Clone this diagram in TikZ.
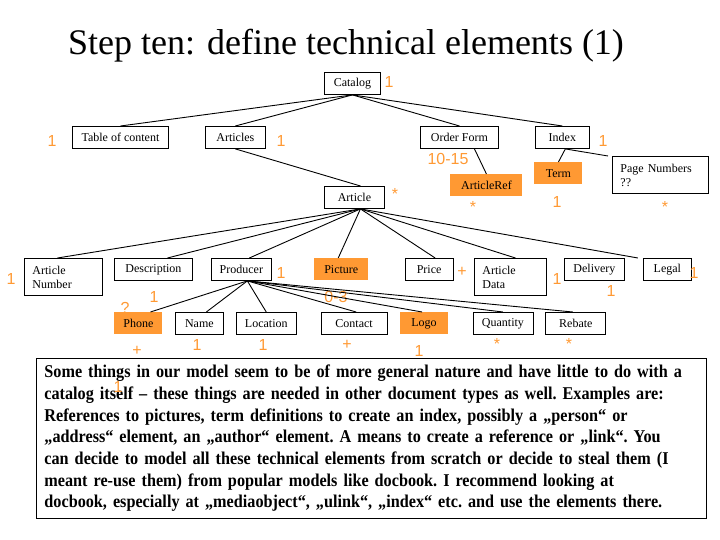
\documentclass[tikz,border=0pt]{standalone}
\usepackage{fontspec}
\setmainfont{Liberation Serif}
\newfontfamily\labelfont{Liberation Sans}
\newfontfamily\remarkfont[FakeStretch=0.9]{Liberation Serif}
\usepackage{xcolor}
\usepackage{tikz}
\usetikzlibrary{positioning}
\definecolor{accent}{RGB}{255,153,51}
\tikzset{
  elem/.style={draw, anchor=north west, minimum width=#1, minimum height=22pt, inner xsep=5pt, inner ysep=3pt, font=\fontsize{12}{14}\selectfont},
  elem/.default=20pt,
  multi/.style={text width=#1, align=left, inner xsep=8pt, minimum height=37pt},
  tech/.style={elem=#1, draw=none, fill=accent},
  card/.style={text=accent, inner sep=0pt, font=\labelfont\fontsize{16}{18}\selectfont},
  heading/.style={anchor=base, font=\fontsize{36}{40}\selectfont},
  remark/.style={draw, anchor=north west, text width=654pt, align=left, inner xsep=8pt, inner ysep=4pt, minimum height=160pt, font=\remarkfont\bfseries\fontsize{18}{21.7}\selectfont\frenchspacing},
}
\begin{document}
\begin{tikzpicture}[x=1pt, y=-1pt, line width=0.9pt]
  \useasboundingbox (0,0) rectangle (720,540);
  \node[heading] (title) at (346,55) {Step ten: define technical elements (1)};

  \node[elem=56pt] (catalog) at (324,72) {Catalog};
  \node[elem=96pt] (toc) at (72,126) {Table of content};
  \node[elem=60pt, right=36pt of toc] (articles) {Articles};
  \node[elem=78pt] (orderform) at (420,126) {Order Form};
  \node[elem=54pt, right=36pt of orderform] (index) {Index};
  \node[tech=72pt] (articleref) at (450,174) {ArticleRef};
  \node[tech=48pt] (term) at (534,162) {Term};
  \node[elem, multi=80pt] (pagenum) at (612,156) {Page Numbers\\??};
  \node[elem=60pt] (article) at (324,186) {Article};

  \node[elem, multi=62pt] (artnum) at (24,258) {Article\\Number};
  \node[elem=78pt] (desc) at (114,258) {Description};
  \node[elem=60pt, right=18pt of desc] (producer) {Producer};
  \node[tech=54pt, right=42pt of producer] (picture) {Picture};
  \node[elem=48pt, right=36pt of picture] (price) {Price};
  \node[elem, multi=56pt] (artdata) at (474,258) {Article\\Data};
  \node[elem=60pt] (delivery) at (564,258) {Delivery};
  \node[elem=48pt, right=18pt of delivery] (legal) {Legal};

  \node[tech=48pt] (phone) at (114,312) {Phone};
  \node[elem=48pt, right=12pt of phone] (name) {Name};
  \node[elem=60pt, right=12pt of name] (location) {Location};
  \node[elem=66pt, right=24pt of location] (contact) {Contact};
  \node[tech=48pt, right=12pt of contact] (logo) {Logo};
  \node[elem=60pt, right=24pt of logo] (quantity) {Quantity};
  \node[elem=60pt, right=12pt of quantity] (rebate) {Rebate};

  \node[remark] (text) at (36,358) {Some things in our model seem to be of more general nature and have little to do with a\\
    catalog itself – these things are needed in other document types as well. Examples are:\\
    References to pictures, term definitions to create an index, possibly a „person“ or\\
    „address“ element, an „author“ element. A means to create a reference or „link“. You\\
    can decide to model all these technical elements from scratch or decide to steal them (I\\
    meant re-use them) from popular models like docbook. I recommend looking at\\
    docbook, especially at „mediaobject“, „ulink“, „index“ etc. and use the elements there.};

  \foreach \pos/\txt [count=\i] in {{389,82}/1, {52,141}/1, {281,141}/1, {448,159}/10-15, {603,141}/1,
      {473,207}/*, {557,202}/1, {665,207}/*, {395,194}/*, {11,279}/1, {281,273}/1, {154,297}/1,
      {125,308}/?, {137,351}/+, {197,345}/1, {263,345}/1, {336,297}/0-3, {347,345}/+, {462,272}/+,
      {557,279}/1, {611,291}/1, {694,273}/1, {419,351}/1, {497,344}/*, {569,344}/*, {118,387}/1}
    \node[card] (card\i) at (\pos) {\txt};

  \draw (catalog.south) -- (toc.north);
  \draw (catalog.south) -- (articles.north);
  \draw (catalog.south) -- (orderform.north);
  \draw (catalog.south) -- (index.north);
  \draw (articles.south) -- ([xshift=6pt]article.north);
  \draw ([xshift=15pt]orderform.south) -- (articleref.north);
  \draw ([xshift=3pt]index.south) -- (term.north);
  \draw ([xshift=3pt]index.south) -- ([xshift=-4pt]pagenum.north west);

  \foreach \child/\dx in {artnum/-6pt, desc/14pt, producer/8pt, picture/-3pt, price/6pt, artdata/5pt}
    \draw ([xshift=6pt]article.south) -- ([xshift=\dx]\child.north);
  \draw ([xshift=6pt]article.south) -- ([xshift=-5pt]legal.north west);

  \foreach \child/\dx in {phone/12pt, name/7pt, location/0pt, contact/2pt, logo/-2pt, quantity/0pt, rebate/-3pt}
    \draw ([xshift=6pt]producer.south) -- ([xshift=\dx]\child.north);
\end{tikzpicture}
\end{document}
